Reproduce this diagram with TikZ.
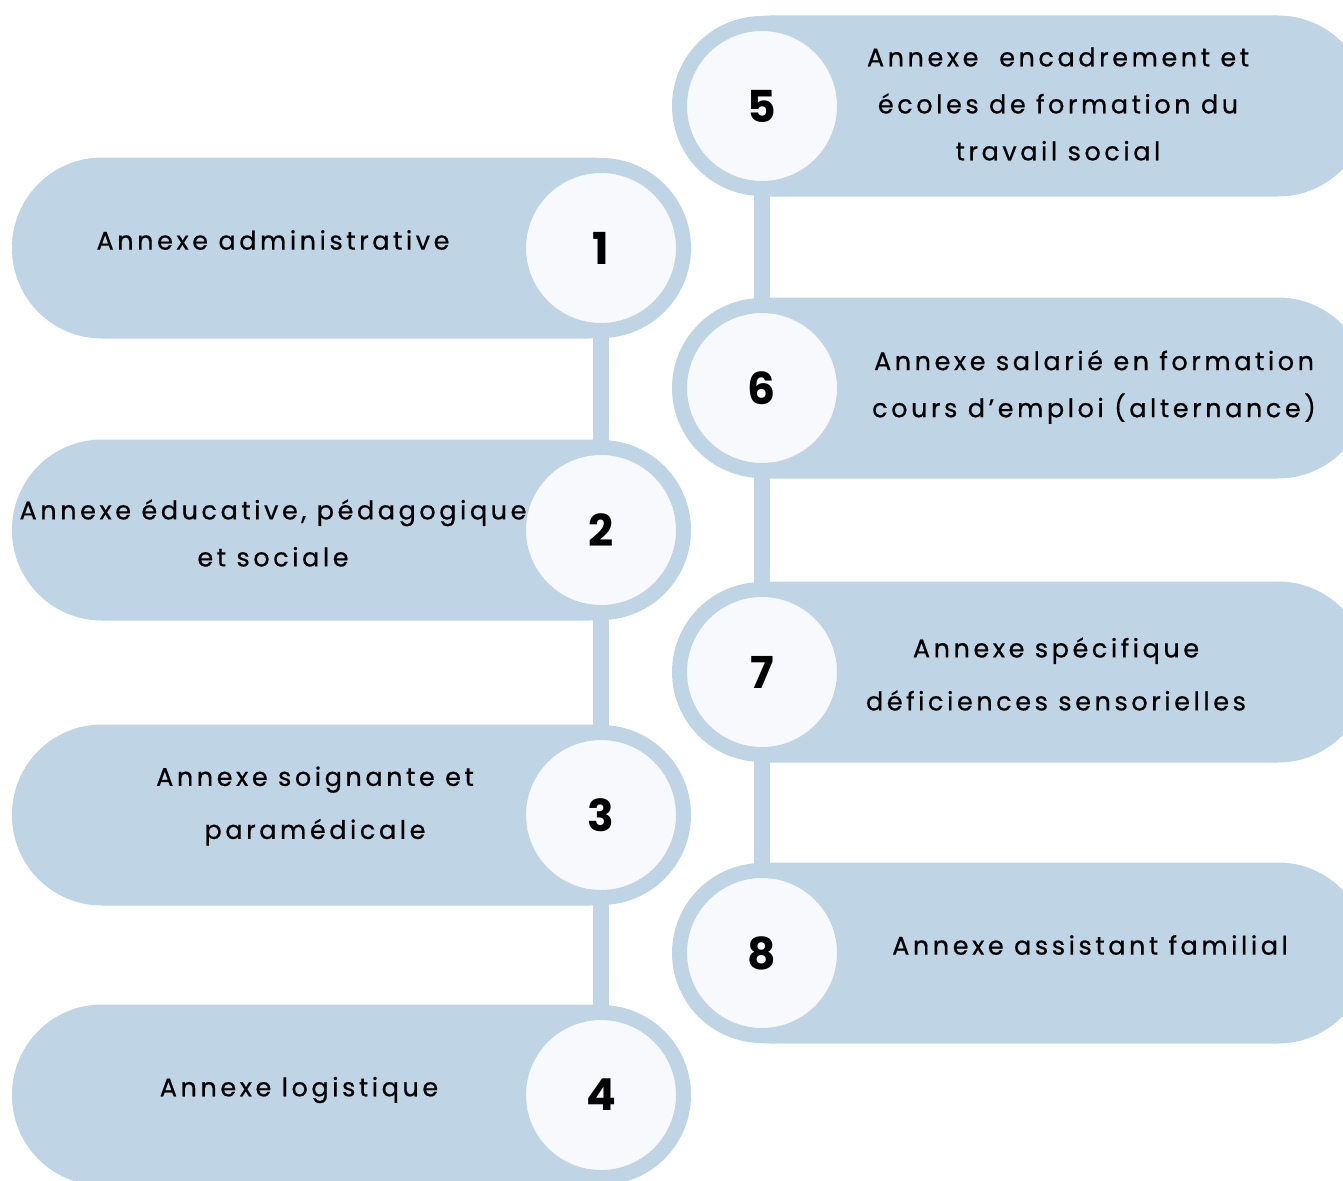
\documentclass[tikz,border=0pt]{standalone}
\usepackage{fontspec}
\setmainfont{Poppins}
\newfontfamily\lblfont{Poppins}[LetterSpace=14,FakeBold=0.6]
\definecolor{pillblue}{HTML}{BFD4E5}
\definecolor{inwhite}{HTML}{F7F9FD}
\begin{document}
\begin{tikzpicture}[x=1pt,y=-1pt,
  pill/.style={fill=pillblue, draw=none, rounded corners=90pt, minimum height=181pt, inner sep=0pt},
  numc/.style={circle, fill=inwhite, draw=pillblue, line width=15pt, minimum size=165pt, inner sep=0pt,
    font=\fontsize{44}{44}\selectfont\bfseries},
  conn/.style={draw=pillblue, line width=16pt, shorten <=-4pt, shorten >=-4pt},
  lbl/.style={align=center, text=black, inner sep=0pt, font=\lblfont\fontsize{25.5}{47}\selectfont},
  lblw/.style={lbl, font=\lblfont\fontsize{25.5}{53}\selectfont}]
\useasboundingbox (0,0) rectangle (1343,1180);
\clip (0,0) rectangle (1343,1180);
% pills
\node[pill, minimum width=668pt] (p1) at (346,248) {};
\node[pill, minimum width=668pt] (p2) at (346,530) {};
\node[pill, minimum width=668pt] (p3) at (346,815) {};
\node[pill, minimum width=668pt] (p4) at (346,1095) {};
\node[pill, minimum width=688pt] (p5) at (1024,106) {};
\node[pill, minimum width=688pt] (p6) at (1024,388) {};
\node[pill, minimum width=688pt] (p7) at (1024,672) {};
\node[pill, minimum width=688pt] (p8) at (1024,953) {};
% circles
\node[numc] (c1) at (601,248) {1};
\node[numc] (c2) at (601,530) {2};
\node[numc] (c3) at (601,815) {3};
\node[numc] (c4) at (601,1095) {4};
\node[numc] (c5) at (762,106) {5};
\node[numc] (c6) at (762,388) {6};
\node[numc] (c7) at (762,672) {7};
\node[numc] (c8) at (762,953) {8};
% connectors
\draw[conn] (c1) -- (c2);
\draw[conn] (c2) -- (c3);
\draw[conn] (c3) -- (c4);
\draw[conn] (c5) -- (c6);
\draw[conn] (c6) -- (c7);
\draw[conn] (c7) -- (c8);
% labels
\node[lbl] (t1) at (273,240) {Annexe administrative};
\node[lbl] (t2) at (273,533) {Annexe éducative, pédagogique\\et sociale};
\node[lblw] (t3) at (315,806) {Annexe soignante et\\paramédicale};
\node[lbl] (t4) at (299,1090) {Annexe logistique};
\node[lbl] (t5) at (1058,104) {Annexe\ \ encadrement et\\écoles de formation du\\travail social};
\node[lbl] (t6) at (1094,387) {Annexe salarié en formation\\cours d’emploi (alternance)};
\node[lblw] (t7) at (1056,674) {Annexe spécifique\\déficiences sensorielles};
\node[lbl] (t8) at (1090,945) {Annexe assistant familial};
\end{tikzpicture}
\end{document}
